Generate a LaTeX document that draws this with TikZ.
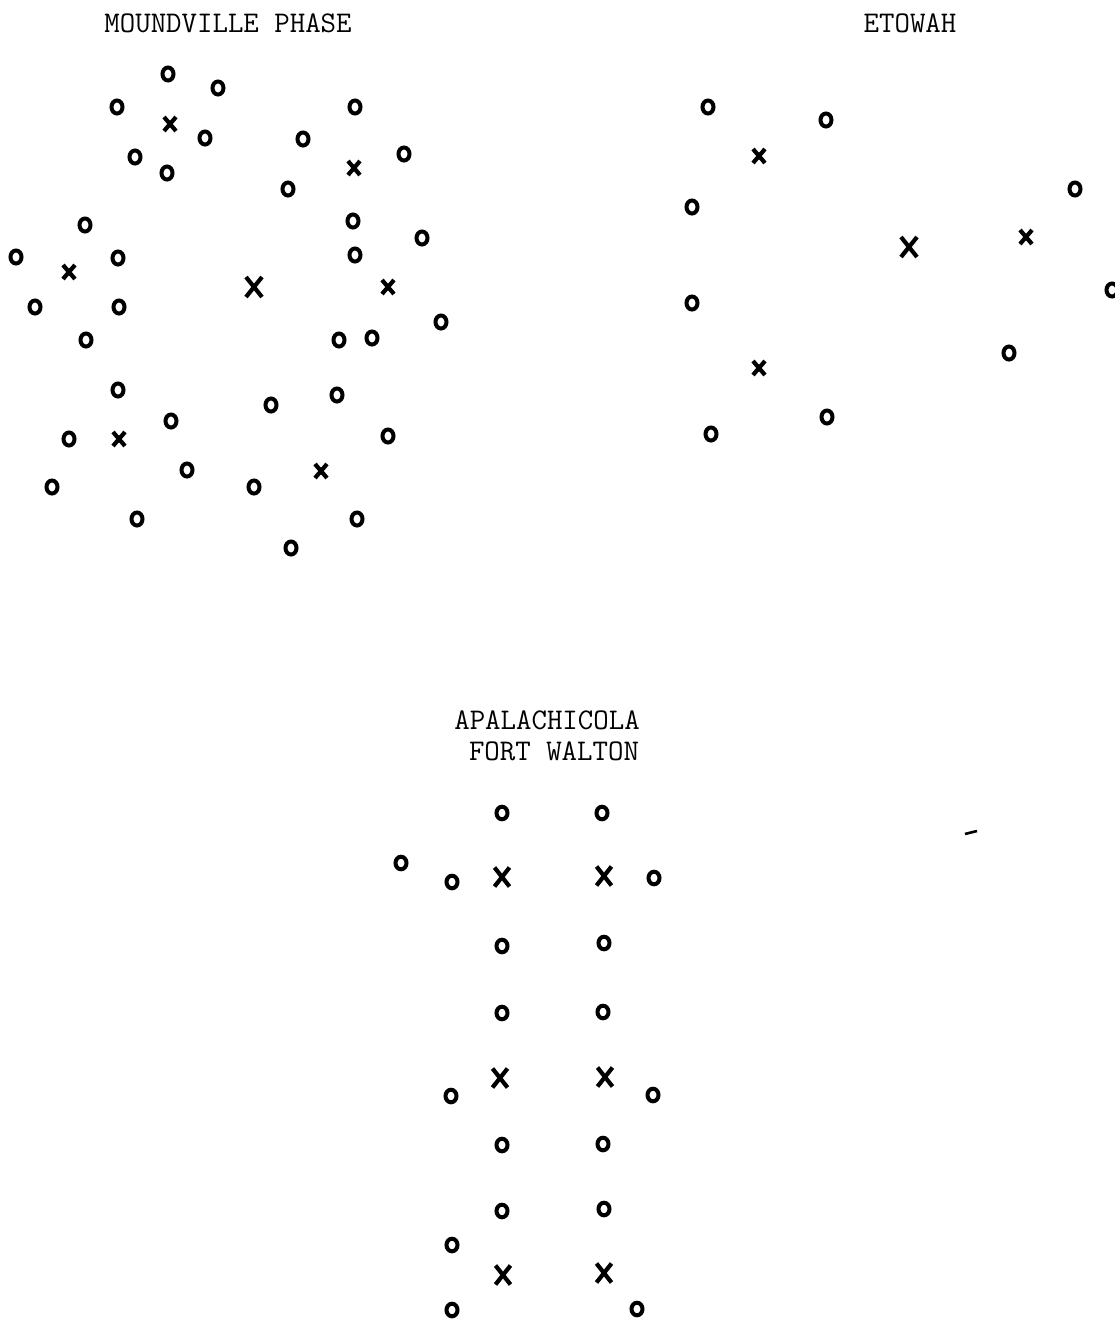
\documentclass[tikz,border=0pt]{standalone}
\usepackage{fontspec}
\usepackage{tikz}
\usetikzlibrary{positioning}
\tikzset{
  ring/.style={line width=4pt},
  cross/.style={line width=4.2pt},
  title/.style={font=\ttfamily\fontsize{30}{34}\selectfont, inner sep=0pt}
}

\begin{document}
\begin{tikzpicture}[x=1pt, y=-1pt]
  \useasboundingbox (0,0) rectangle (1115,1323);
  % titles
  \node[title] (moundville) at (228,23) {MOUNDVILLE PHASE};
  \node[title] (etowah) at (910,23) {ETOWAH};
  \node[title] (apalachicola) at (547,720) {APALACHICOLA};
  \node[title, below=12pt of apalachicola.south, anchor=north, xshift=7pt] (fortwalton) {FORT WALTON};
  % moundville phase
  \foreach \x/\y in {168/74, 218/88, 117/107, 205/138, 135/157, 167/173, 303/139, 355/107,
                     404/154, 288/189, 85/225, 16/257, 118/258, 353/221, 422/238, 355/255,
                     35/307, 119/307, 86/340, 339/340, 372/338, 441/322, 118/390, 271/405,
                     337/395, 171/421, 69/439, 388/436, 187/470, 254/487, 52/487, 137/519,
                     357/519, 291/548} {
    \draw[ring] (\x,\y) ellipse [x radius=5.5pt, y radius=6.5pt];
  }
  \foreach \x/\y in {170/124, 354/168, 69/272, 388/287, 119/439, 321/471} {
    \draw[cross] (\x-6,\y-7) -- (\x+6,\y+7) (\x-6,\y+7) -- (\x+6,\y-7);
  }
  \draw[cross] (246,277) -- (262,297) (246,297) -- (262,277);
  % etowah
  \foreach \x/\y in {708/107, 826/120, 1075/189, 692/207, 1112/290, 692/303, 1009/353,
                     827/417, 711/434} {
    \draw[ring] (\x,\y) ellipse [x radius=5.5pt, y radius=6.5pt];
  }
  \foreach \x/\y in {759/156, 1026/237, 759/368} {
    \draw[cross] (\x-6,\y-7) -- (\x+6,\y+7) (\x-6,\y+7) -- (\x+6,\y-7);
  }
  \draw[cross] (901,237) -- (917,257) (901,257) -- (917,237);
  % apalachicola / fort walton
  \foreach \x/\y in {502/813, 602/813, 401/863, 452/882, 654/878, 502/946, 604/943,
                     502/1013, 603/1012, 451/1096, 653/1095, 502/1145, 603/1144,
                     502/1211, 604/1209, 452/1245, 452/1310, 637/1309} {
    \draw[ring] (\x,\y) ellipse [x radius=5.5pt, y radius=6.3pt];
  }
  \foreach \x/\y in {502/877, 604/876, 500/1078, 605/1077, 503/1275, 604/1273} {
    \draw[cross] (\x-7.5,\y-9.5) -- (\x+7.5,\y+9.5) (\x-7.5,\y+9.5) -- (\x+7.5,\y-9.5);
  }
  \draw[line width=2.6pt] (965,834) -- (977,831);
\end{tikzpicture}
\end{document}
